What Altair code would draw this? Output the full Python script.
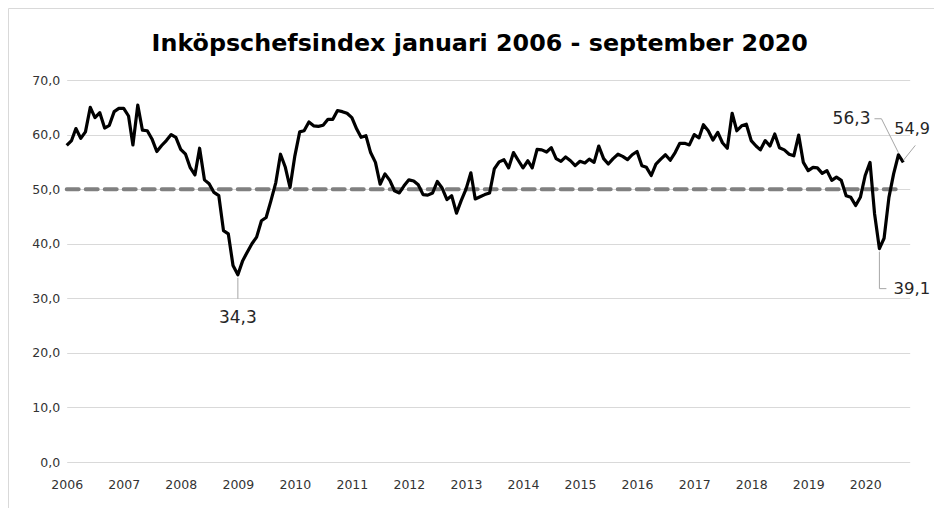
import altair as alt
import pandas as pd

# Monthly purchasing managers' index, January 2006 - September 2020
v2006 = [58.0, 58.9, 61.1, 59.3, 60.5, 65.0, 63.1, 64.0, 61.2, 61.7, 64.2, 64.8]
v2007 = [64.8, 63.4, 58.1, 65.4, 60.8, 60.7, 59.2, 56.9, 58.0, 58.9, 60.0, 59.5]
v2008 = [57.3, 56.4, 54.0, 52.6, 57.5, 51.7, 51.0, 49.4, 48.8, 42.4, 41.8, 36.0]
v2009 = [34.3, 36.9, 38.4, 40.0, 41.2, 44.2, 44.8, 47.9, 51.2, 56.4, 54.0, 50.3]
v2010 = [56.1, 60.5, 60.7, 62.3, 61.6, 61.5, 61.7, 62.8, 62.8, 64.4, 64.2, 63.9]
v2011 = [63.1, 61.0, 59.5, 59.8, 56.7, 54.9, 50.9, 52.8, 51.6, 49.7, 49.3, 50.6]
v2012 = [51.7, 51.5, 50.8, 49.0, 48.9, 49.3, 51.4, 50.2, 48.1, 48.8, 45.6, 47.9]
v2013 = [50.0, 53.0, 48.2, 48.6, 49.0, 49.3, 53.7, 55.0, 55.4, 53.9, 56.7, 55.3]
v2014 = [53.9, 55.2, 53.9, 57.3, 57.2, 56.8, 57.6, 55.6, 55.1, 55.9, 55.2, 54.3]
v2015 = [55.1, 54.8, 55.5, 54.9, 57.9, 55.6, 54.6, 55.6, 56.4, 56.0, 55.4, 56.3]
v2016 = [56.9, 54.3, 54.0, 52.5, 54.6, 55.5, 56.3, 55.3, 56.7, 58.4, 58.4, 58.1]
v2017 = [60.0, 59.4, 61.8, 60.7, 59.0, 60.4, 58.5, 57.5, 63.9, 60.7, 61.6, 61.9]
v2018 = [58.9, 57.9, 57.2, 58.9, 57.9, 60.1, 57.6, 57.2, 56.4, 56.1, 59.9, 54.9]
v2019 = [53.4, 54.0, 53.9, 52.9, 53.4, 51.6, 52.2, 51.6, 48.8, 48.5, 47.0, 48.5]
v2020 = [52.5, 54.9, 45.5, 39.1, 41.0, 48.5, 52.8, 56.3, 54.9]

pmi = (v2006 + v2007 + v2008 + v2009 + v2010 + v2011 + v2012 + v2013 +
       v2014 + v2015 + v2016 + v2017 + v2018 + v2019 + v2020)
dates = pd.date_range("2006-01-01", periods=len(pmi), freq="MS")

# 50-level reference series
ref_dates = ["2006-01-01", "2020-08-01"]
ref_values = [50, 50]

# Labelled points
ann_dates = ["2009-01-01", "2020-04-01", "2020-08-01", "2020-09-01"]
ann_values = [34.3, 39.1, 56.3, 54.9]

years = list(range(2006, 2021))
title_text = "Inköpschefsindex januari 2006 - september 2020"

df = pd.DataFrame({"date": dates, "pmi": pmi})
ref = pd.DataFrame({"date": pd.to_datetime(ref_dates), "pmi": ref_values})
ann = pd.DataFrame({"date": pd.to_datetime(ann_dates), "pmi": ann_values})
ann["label"] = [f"{v:.1f}".replace(".", ",") for v in ann_values]

FONT = "DejaVu Sans"
LEADER = "#a6a6a6"

x_enc = alt.X(
    "date:T",
    title=None,
    scale=alt.Scale(domain=[alt.DateTime(year=2006, month=1, date=1),
                            alt.DateTime(year=2020, month=10, date=12)]),
    axis=alt.Axis(values=[alt.DateTime(year=y, month=1, date=1) for y in years],
                  format="%Y", grid=False, domain=False, ticks=False,
                  labelPadding=16, labelFont=FONT, labelFontSize=12.5,
                  labelColor="#333333", labelOverlap=False, labelFlush=False,
                  labelAlign="center"),
)
y_enc = alt.Y(
    "pmi:Q",
    title=None,
    scale=alt.Scale(domain=[0, 70]),
    axis=alt.Axis(values=list(range(0, 71, 10)),
                  labelExpr="replace(format(datum.value, '.1f'), '.', ',')",
                  grid=True, gridColor="#d9d9d9", gridWidth=1,
                  domain=False, ticks=False, labelPadding=7,
                  labelFont=FONT, labelFontSize=12.5, labelColor="#333333"),
)

one = pd.DataFrame({"title": [title_text]})

border = alt.Chart(one).mark_rect(
    fill="transparent", stroke="#d9d9d9", strokeWidth=1
).encode(x=alt.value(-58.2), x2=alt.value(900), y=alt.value(-71.5), y2=alt.value(600))

title = alt.Chart(one).mark_text(
    font=FONT, fontSize=23.8, fontWeight="bold", color="black",
    align="center", baseline="middle"
).encode(x=alt.value(413), y=alt.value(-36), text="title:N")

ref_line = alt.Chart(ref).mark_line(
    color="#808080", strokeWidth=4, strokeDash=[12, 7], strokeCap="round"
).encode(x=x_enc, y=y_enc)

main_line = alt.Chart(df).mark_line(
    color="black", strokeWidth=3.2, strokeJoin="round"
).encode(x="date:T", y="pmi:Q")


def leader(i, xo, yo, x2o, y2o):
    return alt.Chart(ann.iloc[[i]]).mark_rule(
        color=LEADER, strokeWidth=1,
        xOffset=xo, yOffset=yo, x2Offset=x2o, y2Offset=y2o
    ).encode(x="date:T", y="pmi:Q", x2="date:T", y2="pmi:Q")


def label(i, align, dx, dy, size=17):
    return alt.Chart(ann.iloc[[i]]).mark_text(
        font=FONT, fontSize=size, color="#262626", align=align,
        baseline="middle", dx=dx, dy=dy
    ).encode(x="date:T", y="pmi:Q", text="label:N")


layers = [
    border, title, ref_line, main_line,
    # 34,3
    leader(0, 0, 3, 0, 24), label(0, "center", 0, 43),
    # 39,1
    leader(1, 0, 3, 0, 40), leader(1, 0, 40, 7, 40), label(1, "left", 14, 40, 16.5),
    # 56,3
    leader(2, 0, -2, -17, -36), leader(2, -17, -36, -24, -36), label(2, "right", -28, -36),
    # 54,9
    leader(3, 0, -2, 12, -17), label(3, "left", -9, -33, 16),
]

chart = alt.layer(*layers).properties(
    width=843, height=382,
    autosize=alt.AutoSizeParams(type="none"),
    padding={"left": 58.7, "top": 72, "right": 24.3, "bottom": 46},
    background="white",
).configure_view(strokeWidth=0)

chart.save("out.html", embed_options={"renderer": "svg", "actions": False})
